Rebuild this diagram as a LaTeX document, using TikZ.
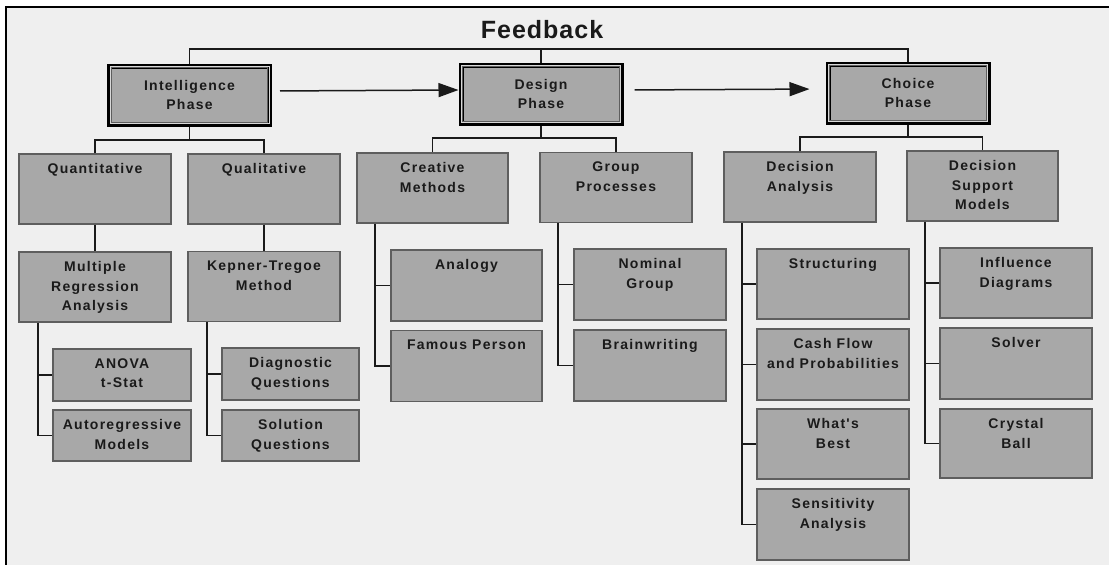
\documentclass[tikz,border=0pt]{standalone}
\usepackage{fontspec}
\setmainfont{Liberation Sans}
\newfontfamily\bxfont[LetterSpace=9]{Liberation Sans}
\newfontfamily\fbfont[LetterSpace=4]{Liberation Sans}
\usetikzlibrary{arrows.meta}
\definecolor{bg}{HTML}{EFEFEF}
\definecolor{bxfill}{HTML}{A8A8A8}
\definecolor{bxline}{HTML}{5E5E5E}
\definecolor{ink}{HTML}{1A1A1A}
\definecolor{gapline}{HTML}{D8D8D8}
\newcommand\mybx[6]{\node[bx,minimum width=#4pt,minimum height=#5pt,label={[txt]north:{#6}}] (#1) at (#2,#3) {};}
\begin{document}
\begin{tikzpicture}[x=1pt,y=-1pt,
 bx/.style={draw=bxline,fill=bxfill,line width=1.2pt,inner sep=0pt},
 txt/.style={anchor=north,yshift=-10pt,align=center,inner sep=0pt,text=ink,font=\bxfont\bfseries\fontsize{14}{19.5}\selectfont},
 phase/.style={draw=black,fill=bxfill,line width=5pt,minimum width=160pt,minimum height=58pt,align=center,inner sep=0pt,text=ink,font=\bxfont\bfseries\fontsize{14}{19.5}\selectfont},
 conn/.style={draw=ink,line width=1.3pt},
 arr/.style={draw=ink,line width=1.5pt,-{Triangle[length=20pt,width=14pt]}}]
\useasboundingbox (0,0) rectangle (1109,565);
\fill[white] (0,0) rectangle (1109,565);
\fill[bg] (6,7) rectangle (1109,565);
\draw[line width=2.5pt,black] (6,565) -- (6,7) -- (1109,7);

% title
\node[font=\fbfont\bfseries\fontsize{25}{28}\selectfont,text=ink,inner sep=0pt] (fb) at (542,30) {Feedback};

% phases
\node[phase] (intel) at (189.5,95) {Intelligence\\Phase};
\node[phase] (design) at (541,94) {Design\\Phase};
\node[phase] (choice) at (908,93) {Choice\\Phase};
\foreach \n in {intel,design,choice}{
  \draw[gapline,line width=1pt] ([shift={(3,3)}]\n.north west) rectangle ([shift={(-3,-3)}]\n.south east);
  \draw[bxline,line width=1pt] ([shift={(4.3,4.3)}]\n.north west) rectangle ([shift={(-4.3,-4.3)}]\n.south east);
}

% level 1
\mybx{quant}{95}{189}{152}{70}{Quantitative}
\mybx{qual}{264}{189}{152}{70}{Qualitative}
\mybx{creative}{432.5}{188}{151}{70}{Creative\\Methods}
\mybx{group}{616}{187.5}{152}{70}{Group\\Processes}
\mybx{decan}{800}{187}{152}{70}{Decision\\Analysis}
\mybx{dsm}{982.5}{186}{151}{70}{Decision\\Support\\Models}

% level 2
\mybx{mra}{95}{287}{152}{70}{Multiple\\Regression\\Analysis}
\mybx{kt}{264}{286.5}{152}{70}{Kepner-Tregoe\\Method}
\mybx{anova}{122}{375}{138}{52}{ANOVA\\t-Stat}
\mybx{auto}{122}{435.5}{138}{51}{Autoregressive\\Models}
\mybx{diag}{290.5}{374}{137}{52}{Diagnostic\\Questions}
\mybx{sol}{290.5}{435.5}{137}{51}{Solution\\Questions}
\mybx{analogy}{466.5}{285.5}{151}{71}{Analogy}
\mybx{famous}{466.5}{366}{151}{71}{Famous Person}
\mybx{nominal}{650}{284.5}{152}{71}{Nominal\\Group}
\mybx{brain}{650}{365.5}{152}{71}{Brainwriting}
\mybx{struct}{833}{284}{152}{70}{Structuring}
\mybx{cash}{833}{364.5}{152}{71}{Cash Flow\\and Probabilities}
\mybx{whats}{833}{444}{152}{70}{What's\\Best}
\mybx{sens}{833}{524.5}{152}{71}{Sensitivity\\Analysis}
\mybx{infl}{1016}{283}{152}{70}{Influence\\Diagrams}
\mybx{solver}{1016}{363.5}{152}{71}{Solver}
\mybx{crystal}{1016}{443.5}{152}{69}{Crystal\\Ball}

% feedback loop
\coordinate (fbR) at (908,49);
\draw[conn] (intel.north) |- (fbR) -- (choice.north);
\draw[conn] (design.north) -- (design.north |- fbR);

% phase arrows
\draw[arr,shorten <=8pt] ([yshift=4pt]intel.east) -- ([yshift=4pt]design.west);
\draw[arr,shorten <=11pt,shorten >=16pt] ([yshift=4pt]design.east) -- ([yshift=4pt]choice.west);

% phase to level 1
\coordinate (jI) at (189.5,140);
\coordinate (jD) at (541,138);
\coordinate (jC) at (908,137);
\draw[conn] (intel.south) -- (jI);
\draw[conn] (quant.north) |- (jI) -| (qual.north);
\draw[conn] (design.south) -- (jD);
\draw[conn] (creative.north) |- (jD) -| (group.north);
\draw[conn] (choice.south) -- (jC);
\draw[conn] (decan.north) |- (jC) -| (dsm.north);

% level 1 to level 2
\draw[conn] (quant.south) -- (mra.north);
\draw[conn] (qual.south) -- (kt.north);

% side trees
\coordinate (tM) at (38,0);
\draw[conn] (mra.south -| tM) |- (auto.west);
\draw[conn] (tM |- anova.west) -- (anova.west);
\coordinate (tK) at (207,0);
\draw[conn] (kt.south -| tK) |- (sol.west);
\draw[conn] (tK |- diag.west) -- (diag.west);
\coordinate (tC) at (375,0);
\draw[conn] (creative.south -| tC) |- (famous.west);
\draw[conn] (tC |- analogy.west) -- (analogy.west);
\coordinate (tG) at (558,0);
\draw[conn] (group.south -| tG) |- (brain.west);
\draw[conn] (tG |- nominal.west) -- (nominal.west);
\coordinate (tA) at (742,0);
\draw[conn] (decan.south -| tA) |- (sens.west);
\draw[conn] (tA |- struct.west) -- (struct.west);
\draw[conn] (tA |- cash.west) -- (cash.west);
\draw[conn] (tA |- whats.west) -- (whats.west);
\coordinate (tS) at (925,0);
\draw[conn] (dsm.south -| tS) |- (crystal.west);
\draw[conn] (tS |- infl.west) -- (infl.west);
\draw[conn] (tS |- solver.west) -- (solver.west);
\end{tikzpicture}
\end{document}
